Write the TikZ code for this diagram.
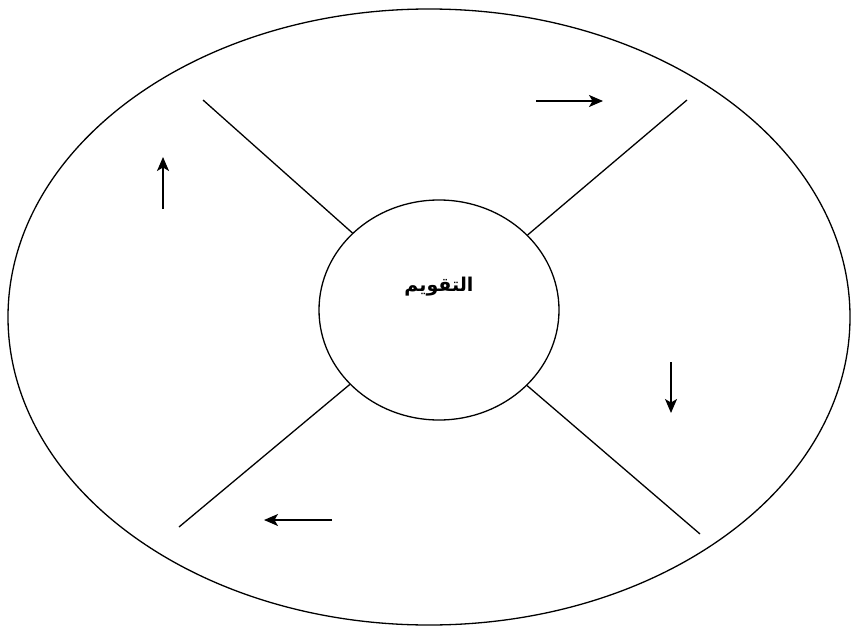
\documentclass[tikz,border=0pt]{standalone}
\usepackage{fontspec}
\usepackage{tikz}
\usetikzlibrary{arrows.meta,shapes.geometric}
\TeXXeTstate=1
\newfontfamily\arabicfont[Script=Arabic]{DejaVu Sans}

\begin{document}
\begin{tikzpicture}[x=1pt,y=-1pt,
  rim/.style={draw,line width=1.3pt},
  hub/.style={ellipse,draw,line width=1.3pt,minimum width=240pt,minimum height=220pt,inner sep=0pt},
  spoke/.style={line width=1.3pt},
  flow/.style={line width=1.4pt,-{Stealth[length=14pt,width=12pt,inset=3.5pt]}},
  every node/.style={font=\arabicfont\bfseries\fontsize{19}{22}\selectfont}]
  \useasboundingbox (0,0) rectangle (851,626);
  \draw[rim] (429,317) ellipse [x radius=421,y radius=308];
  \node[hub] (core) at (439,310) {};
  \node (title) at (439,287) {\beginR التقويم\endR};
  \coordinate (ul) at (203,100);
  \coordinate (ur) at (687,100);
  \coordinate (ll) at (179,527);
  \coordinate (lr) at (700,534);
  \draw[spoke] (ul) -- (core);
  \draw[spoke] (ur) -- (core);
  \draw[spoke] (ll) -- (core);
  \draw[spoke] (lr) -- (core);
  \coordinate (r0) at (536,101);
  \coordinate (r1) at (603,101);
  \coordinate (d0) at (671,362);
  \coordinate (d1) at (671,413);
  \coordinate (l0) at (332,520);
  \coordinate (l1) at (264,520);
  \coordinate (u0) at (163,209);
  \coordinate (u1) at (163,157);
  \draw[flow] (r0) -- (r1);
  \draw[flow] (d0) -- (d1);
  \draw[flow] (l0) -- (l1);
  \draw[flow] (u0) -- (u1);
\end{tikzpicture}
\end{document}
